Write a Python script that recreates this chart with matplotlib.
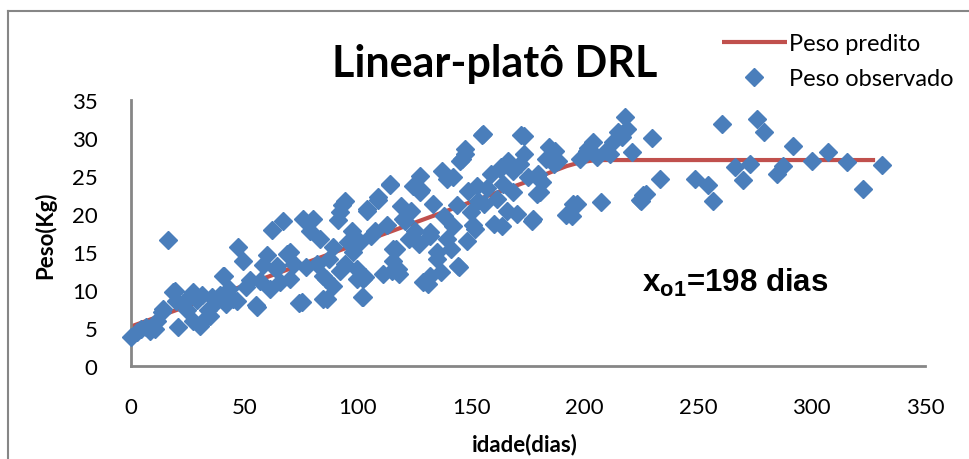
import matplotlib.pyplot as plt
from matplotlib.lines import Line2D

obs_x = [0, 2.6, 4.4, 6.6, 8.4, 10.6, 11.5, 13.7, 16.3, 18.5, 19.8, 20.7, 22.9, 24.7,
         26.4, 27.3, 29, 30.4, 31.3, 32.6, 33.9, 35.7, 37.5, 39.2, 41, 41.9, 43.2, 45,
         47.2, 49.4, 50.7, 52.4, 55.1, 56.9, 58.2, 59.9, 61.3, 62.1, 63.9, 65.7, 67,
         68.8, 70.1, 71.8, 74, 75.8, 77.1, 78.9, 80.2, 81.9, 83.3, 84.6, 85.9, 87.3,
         89, 91.2, 93, 94.3, 95.6, 97.4, 99.6, 101.8, 103.1, 104, 105.8, 107.5, 108.9,
         111.1, 112.8, 114.1, 115.5, 116.8, 118.1, 119, 120.8, 122.5, 123.4, 125.2,
         127, 127.8, 130.9, 131.8, 133.1, 134.9, 136.6, 138, 139.3, 141, 141.9, 143.7,
         144.6, 145.9, 147.2, 148.5, 150, 151.6, 153, 154.7, 155.6, 156.9, 158.7, 160,
         161.3, 163.1, 163.9, 166.2, 168.4, 170.1, 171.9, 173.2, 175, 176.7, 179,
         181.1, 182.9, 184.2, 186.4, 188.2, 191.7, 194.8, 198, 201.4, 203.6, 205.4,
         207.1, 209.3, 212.4, 214.6, 216.4, 217.7, 218.6, 220.8, 224.3, 225.7, 229.6,
         233.1, 248.5, 254.3, 256.5, 260.5, 266.3, 269.8, 272.9, 276, 279.1, 284.7,
         287.4, 291.8, 300.1, 307.2, 315.6, 322.6, 331,
         # second pass, dense middle region
         155.1, 173.2, 147.2, 145, 141.9, 137.1, 162.6, 171.4, 178.9, 127.4, 114.1,
         152.5, 168.4, 108.9, 94.3, 104, 150.7, 165.7, 163.5, 177.2, 148.1, 144.1,
         131.8, 128.7, 117.7, 115, 102.2, 99.6, 102.2, 86.4, 89, 92.1, 134.9, 139.3,
         131.8, 119.9, 115.5, 100.9, 97.8, 92.1, 127.4, 124.3,
         # extra points near the start and the knee
         14.1, 19.4, 27.3, 34.8, 40.5, 46.7, 55.5, 64.3, 70.1, 75.4, 84.6,
         196.6, 194.4, 180.3, 179.4, 186.9, 201, 211.1, 215.5, 224.6, 226.8]
obs_y = [3.8, 4.5, 4.9, 5.1, 4.6, 4.9, 5.9, 7.1, 16.6, 9.7, 8.6, 5.1, 8.3, 7.4,
         9.3, 5.9, 8.7, 5.3, 9.3, 6.2, 7.4, 9.1, 8.4, 9.3, 11.8, 8.2, 10.1, 8.8,
         15.7, 13.8, 10.4, 11.3, 8.0, 11.2, 13.3, 14.6, 10.1, 17.9, 12.8, 11.1, 19.1,
         14.7, 11.4, 13.4, 8.3, 19.3, 13, 17.8, 19.3, 13.4, 16.7, 8.8, 11.4, 14.1,
         15.7, 19.2, 21.2, 13.4, 16.3, 17.8, 12.8, 9.1, 11.7, 20.4, 17.1, 17.8, 21.8,
         12.1, 18.6, 23.8, 13.8, 15.4, 12.1, 21.1, 19.1, 16.7, 20.4, 17.8,
         16.1, 23.2, 10.8, 17.6, 21.3, 14.1, 12.4, 19.7, 24.6, 15.4, 18.4, 21.2,
         13, 27.2, 28.6, 23, 20.3, 18, 21.7, 30.4, 21.3, 23.4, 25.3, 18.7,
         22, 26.2, 23.9, 27, 25.7, 20, 30.4, 27.9, 24.9, 19.1, 22.6,
         24.2, 27.2, 28.8, 26.6, 27, 19.9, 21.3, 27.2, 28.7, 29.5, 27.5,
         21.6, 28.3, 29.5, 30.8, 30.1, 32.8, 31.2, 28.2, 21.8, 22.5, 30,
         24.6, 24.6, 23.8, 21.7, 31.8, 26.2, 24.5, 26.6, 32.5, 30.8, 25.3,
         26.3, 28.9, 27, 28.2, 26.8, 23.3, 26.4,
         30.5, 30.3, 27.9, 27, 24.9, 25.7, 25.9, 26.6, 25, 25, 23.9,
         23.7, 22.9, 22.2, 21.7, 20.7, 18.6, 20.4, 18.4, 19.3, 16.4, 13.2,
         11.8, 11.1, 12.8, 12.5, 11.4, 11.4, 9.1, 8.8, 10.5, 12.5, 15, 16.7,
         17.1, 19.3, 15.4, 16.3, 15, 20.3, 22.9, 23.7,
         7.5, 9.9, 9.7, 6.6, 11.8, 8.6, 7.8, 13.2, 15, 8.4, 11.8,
         21.3, 19.7, 22.9, 25.3, 28.3, 28.3, 27.9, 30.5, 21.7, 22.6]

# predicted weight (linear-plateau, Excel smoothed line)
pred_x = [0, 50, 100, 150, 175, 185, 192, 198, 205, 250, 300, 328]
pred_y = [5.2, 10.6, 16.1, 21.6, 24.3, 25.5, 26.3, 26.8, 27.1, 27.1, 27.1, 27.1]

x_ticks = [0, 50, 100, 150, 200, 250, 300, 350]
y_ticks = [0, 5, 10, 15, 20, 25, 30, 35]

blue = '#4A7EBB'
red = '#C0504D'
grey = '#868686'

fig = plt.figure(figsize=(9.7, 4.6), dpi=100)
ax = fig.add_axes([131 / 970, 1 - 367 / 460, 794 / 970, 266 / 460])

ax.plot(pred_x, pred_y, color=red, lw=3, solid_capstyle='butt', label='Peso predito', zorder=2)
ax.plot(obs_x, obs_y, ls='none', marker='D', ms=9, color=blue, mec=blue,
        label='Peso observado', zorder=3, clip_on=False)

ax.set_xlim(0, 350)
ax.set_ylim(0, 35)
ax.set_xticks(x_ticks)
ax.set_yticks(y_ticks)
ax.tick_params(length=0, labelsize=16, pad=22)
ax.tick_params(axis='y', pad=24)
for lab in ax.get_xticklabels() + ax.get_yticklabels():
    lab.set_family('Lato')

for side in ['top', 'right']:
    ax.spines[side].set_visible(False)
for side in ['left', 'bottom']:
    ax.spines[side].set_color(grey)
    ax.spines[side].set_linewidth(2)

fig.text(525 / 970, 1 - 445 / 460, 'idade(dias)', ha='center', va='center',
         family='Lato', weight='bold', fontsize=16)
fig.text(45 / 970, 1 - 235 / 460, 'Peso(Kg)', ha='center', va='center', rotation=90,
         family='Lato', weight='bold', fontsize=16)

fig.text(495 / 970, 1 - 64 / 460, 'Linear-platô DRL', ha='center', va='center',
         family='Lato', weight='bold', fontsize=31)

plt.rcParams['mathtext.fontset'] = 'custom'
plt.rcParams['mathtext.bf'] = 'Liberation Sans:bold'
plt.rcParams['mathtext.rm'] = 'Liberation Sans'
fig.text(642 / 970, 1 - 292 / 460, r'$\mathbf{x_{o1}}$=198 dias', ha='left', va='baseline',
         family='Liberation Sans', weight='bold', fontsize=22.5)

leg = ax.legend(loc='upper left', bbox_to_anchor=(722 / 970, 1 - 34 / 460),
                bbox_transform=fig.transFigure, frameon=False, prop={'family': 'Lato', 'size': 17},
                handlelength=2.75, handletextpad=0.08, labelspacing=0.6, borderpad=0,
                borderaxespad=0, numpoints=1)

# outer chart border (left and top edges visible)
fig.add_artist(Line2D([8 / 970, 8 / 970], [0, 1 - 12 / 460], color=grey, lw=1.5))
fig.add_artist(Line2D([8 / 970, 1], [1 - 12 / 460, 1 - 12 / 460], color=grey, lw=1.5))

fig.savefig('out.png', dpi=100)
